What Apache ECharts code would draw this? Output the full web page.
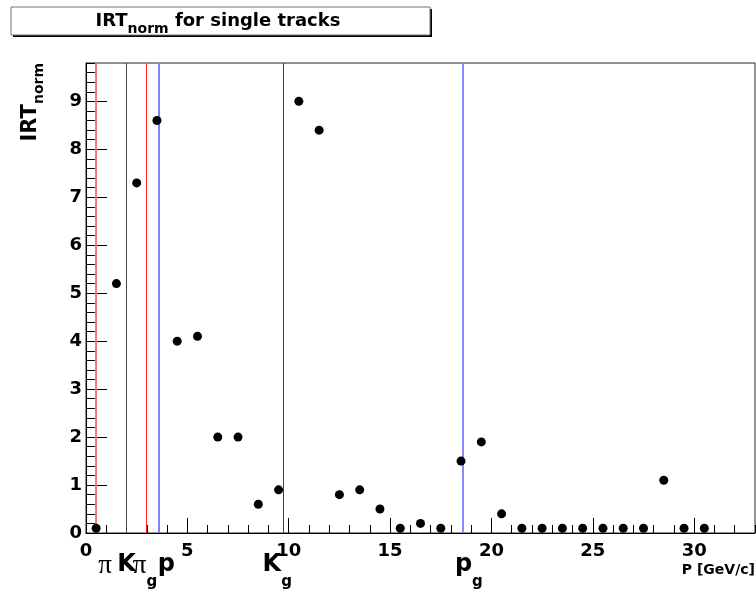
<!DOCTYPE html>
<html>
<head>
<meta charset="utf-8">
<title>IRT norm for single tracks</title>
<script src="https://cdn.jsdelivr.net/npm/echarts@6/dist/echarts.min.js"></script>
<style>
  html, body { margin: 0; padding: 0; background: #fff; }
  #chart { width: 756px; height: 592px; }
</style>
</head>
<body>
<div id="chart"></div>
<script>
// Track momentum bin centres (GeV/c) and normalised IRT per bin
const momentum = [0.5, 1.5, 2.5, 3.5, 4.5, 5.5, 6.5, 7.5, 8.5, 9.5, 10.5, 11.5, 12.5, 13.5, 14.5, 15.5,
  16.5, 17.5, 18.5, 19.5, 20.5, 21.5, 22.5, 23.5, 24.5, 25.5, 26.5, 27.5, 28.5, 29.5, 30.5];
const irtNorm = [0.1, 5.2, 7.3, 8.6, 4.0, 4.1, 2.0, 2.0, 0.6, 0.9, 9.0, 8.4, 0.8, 0.9, 0.5, 0.1,
  0.2, 0.1, 1.5, 1.9, 0.4, 0.1, 0.1, 0.1, 0.1, 0.1, 0.1, 0.1, 1.1, 0.1, 0.1];

// Cherenkov thresholds (aerogel and gas) and their labels
const thresholds = [0.5, 2.0, 2.96, 3.57, 9.73, 18.59];
const thresholdLabels = ['{pi|π}', '{k|K}', '{pi|π}{g|g}', '{k|p}', '{k|K}{g|g}', '{k|p}{g|g}'];

// Axis ranges and ticks
const xRange = [0, 33];
const yRange = [0, 9.8];
const xMajor = 5, xMinor = 1;
const yMajor = 1, yMinor = 0.2;

// ---- styling ----
const thresholdStyle = [
  { color: '#f07878', width: 2, dx: 9 },
  { color: '#444444', width: 1, dx: 0 },
  { color: '#ff2020', width: 1, dx: -1 },
  { color: '#8080ff', width: 2, dx: 8 },
  { color: '#444444', width: 1, dx: -6 },
  { color: '#8888ff', width: 2, dx: 6 }
];
const SANS = '"DejaVu Sans", Verdana, sans-serif';
const SERIF = '"Liberation Serif", "Times New Roman", serif';
const gridBox = { left: 86, top: 63, right: 1, bottom: 59 };

// subscripts: top-aligned tokens pushed down by a top padding
const labelRich = {
  k: { fontFamily: SANS, fontWeight: 'bold', fontSize: 24, color: '#000', verticalAlign: 'top' },
  pi: { fontFamily: SERIF, fontSize: 27, color: '#000', verticalAlign: 'top', padding: [-1, 0, 0, 0] },
  g: { fontFamily: SANS, fontWeight: 'bold', fontSize: 15, color: '#000', verticalAlign: 'top', padding: [22, 0, 0, 0] }
};

const points = momentum.map((p, i) => [p, irtNorm[i]]);

const chart = echarts.init(document.getElementById('chart'), null, { renderer: 'canvas' });

const axisCommon = {
  type: 'value',
  splitLine: { show: false },
  axisLine: { show: true, lineStyle: { color: '#000', width: 1 } }
};

chart.setOption({
  animation: false,
  backgroundColor: '#fff',
  grid: [
    Object.assign({ show: true, borderColor: '#222', borderWidth: 1, backgroundColor: 'transparent' }, gridBox),
    Object.assign({ show: false }, gridBox)
  ],
  xAxis: [
    Object.assign({}, axisCommon, {
      gridIndex: 0, min: xRange[0], max: xRange[1], interval: xMajor,
      axisTick: { inside: true, length: 15, lineStyle: { color: '#000' } },
      axisLabel: { fontFamily: SANS, fontWeight: 'bold', fontSize: 18, color: '#000', margin: 9, showMaxLabel: false }
    }),
    Object.assign({}, axisCommon, {
      gridIndex: 1, min: xRange[0], max: xRange[1], interval: xMinor,
      axisLine: { show: false },
      axisTick: { inside: true, length: 8, lineStyle: { color: '#000' } },
      axisLabel: { show: false }
    })
  ],
  yAxis: [
    Object.assign({}, axisCommon, {
      gridIndex: 0, min: yRange[0], max: yRange[1], interval: yMajor,
      axisTick: { inside: true, length: 21, lineStyle: { color: '#000' } },
      axisLabel: { fontFamily: SANS, fontWeight: 'bold', fontSize: 18, color: '#000', margin: 4, showMaxLabel: false }
    }),
    Object.assign({}, axisCommon, {
      gridIndex: 1, min: yRange[0], max: yRange[1], interval: yMinor,
      axisLine: { show: false },
      axisTick: { inside: true, length: 10, lineStyle: { color: '#000' } },
      axisLabel: { show: false }
    })
  ],
  series: [
    {
      type: 'scatter',
      xAxisIndex: 0, yAxisIndex: 0,
      data: points,
      symbol: 'circle',
      symbolSize: 9,
      itemStyle: { color: '#000', opacity: 1 },
      z: 5,
      markLine: {
        silent: true,
        symbol: 'none',
        animation: false,
        data: thresholds.map((t, i) => ({
          xAxis: t,
          lineStyle: { color: thresholdStyle[i].color, width: thresholdStyle[i].width, type: 'solid' },
          label: {
            show: true,
            position: 'start',
            distance: 20,
            offset: [thresholdStyle[i].dx, 0],
            formatter: thresholdLabels[i],
            rich: labelRich
          }
        }))
      }
    }
  ],
  graphic: [
    // title box with drop shadow
    { type: 'rect', shape: { x: 13, y: 9, width: 419, height: 28 }, style: { fill: '#000' }, z: 10 },
    { type: 'rect', shape: { x: 11, y: 7, width: 419, height: 28 }, style: { fill: '#fff', stroke: '#777', lineWidth: 1 }, z: 11 },
    {
      type: 'text', x: 218, y: 12, z: 12,
      style: {
        text: '{a|IRT}{s|norm}{a| for single tracks}',
        align: 'center', verticalAlign: 'top',
        rich: {
          a: { fontFamily: SANS, fontWeight: 'bold', fontSize: 18, color: '#000', verticalAlign: 'top' },
          s: { fontFamily: SANS, fontWeight: 'bold', fontSize: 14, color: '#000', verticalAlign: 'top', padding: [10, 0, 0, 0] }
        }
      }
    },
    // y-axis title
    {
      type: 'text', x: 20, y: 63, rotation: Math.PI / 2, z: 12,
      style: {
        text: '{a|IRT}{s|norm}',
        align: 'right', verticalAlign: 'top',
        rich: {
          a: { fontFamily: SANS, fontWeight: 'bold', fontSize: 21, color: '#000', verticalAlign: 'top' },
          s: { fontFamily: SANS, fontWeight: 'bold', fontSize: 14, color: '#000', verticalAlign: 'top', padding: [12, 0, 0, 0] }
        }
      }
    },
    // x-axis title
    {
      type: 'text', x: 755, y: 570, z: 12,
      style: {
        text: 'P [GeV/c]',
        align: 'right', verticalAlign: 'middle',
        fontFamily: SANS, fontWeight: 'bold', fontSize: 14, fill: '#000'
      }
    }
  ]
});
</script>
</body>
</html>
